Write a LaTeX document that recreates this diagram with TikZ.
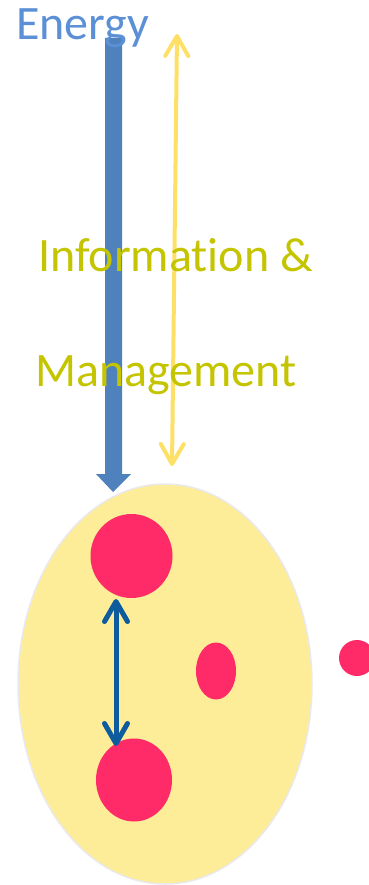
\documentclass[tikz,border=0pt]{standalone}
\usepackage{fontspec}
\setmainfont[Ligatures=NoCommon]{Carlito}
\usetikzlibrary{arrows.meta,shapes.geometric}
\definecolor{energyblue}{HTML}{4F81BD}
\definecolor{energytext}{HTML}{5B8FD6}
\definecolor{infoyellow}{HTML}{FFE066}
\definecolor{infotext}{HTML}{C4C400}
\definecolor{cellfill}{HTML}{FDEC98}
\definecolor{cellline}{HTML}{E9E9EE}
\definecolor{dotred}{HTML}{FF2A68}
\definecolor{linkblue}{HTML}{0E5C9E}
\tikzset{
  bigtext/.style={font=\fontsize{48}{58}\selectfont, inner sep=0pt, anchor=base west},
  dot/.style={ellipse, fill=dotred, draw=none, inner sep=0pt},
  chev/.style={line width=#1, line cap=round, line join=round},
}
\begin{document}
\begin{tikzpicture}[x=1pt,y=-1pt]
\useasboundingbox (0,0) rectangle (368,885);
% cell
\node[ellipse, fill=cellfill, draw=cellline, line width=1.5pt, minimum width=294pt, minimum height=400pt, inner sep=0pt] (cell) at (165,684) {};
% dots
\node[dot, minimum width=82pt, minimum height=84pt] (d1) at (131.5,556) {};
\node[dot, minimum width=76pt, minimum height=83pt] (d2) at (134,780) {};
\node[dot, minimum width=40pt, minimum height=57pt] (d3) at (216,671) {};
\node[dot, minimum width=36pt, minimum height=36pt] (d4) at (357,658) {};
% energy arrow
\fill[energyblue] (105,38) -- (122,38) -- (122,474) -- (131,474) -- (113,492) -- (96,474) -- (105,474) -- cycle;
\coordinate (etip) at (113,492);
% information arrow
\coordinate (itop) at (177,34);
\coordinate (ibot) at (172,466);
\draw[infoyellow, chev=4pt, {Straight Barb[length=20pt,width=23pt,line cap=round,line join=round]}-{Straight Barb[length=20pt,width=23pt,line cap=round,line join=round]}] (itop) -- (ibot);
% link between dots
\coordinate (ltop) at (116,599);
\coordinate (lbot) at (116,746);
\draw[linkblue, chev=5pt, {Straight Barb[length=20pt,width=23pt,line cap=round,line join=round]}-{Straight Barb[length=20pt,width=23pt,line cap=round,line join=round]}] (ltop) -- (lbot);
% texts
\node[bigtext, text=energytext] (energy) at (16,40) {Energy};
\node[bigtext, text=infotext] (info) at (38,271) {Information \&};
\node[bigtext, text=infotext] (mgmt) at (35,386) {Management};
\end{tikzpicture}
\end{document}
